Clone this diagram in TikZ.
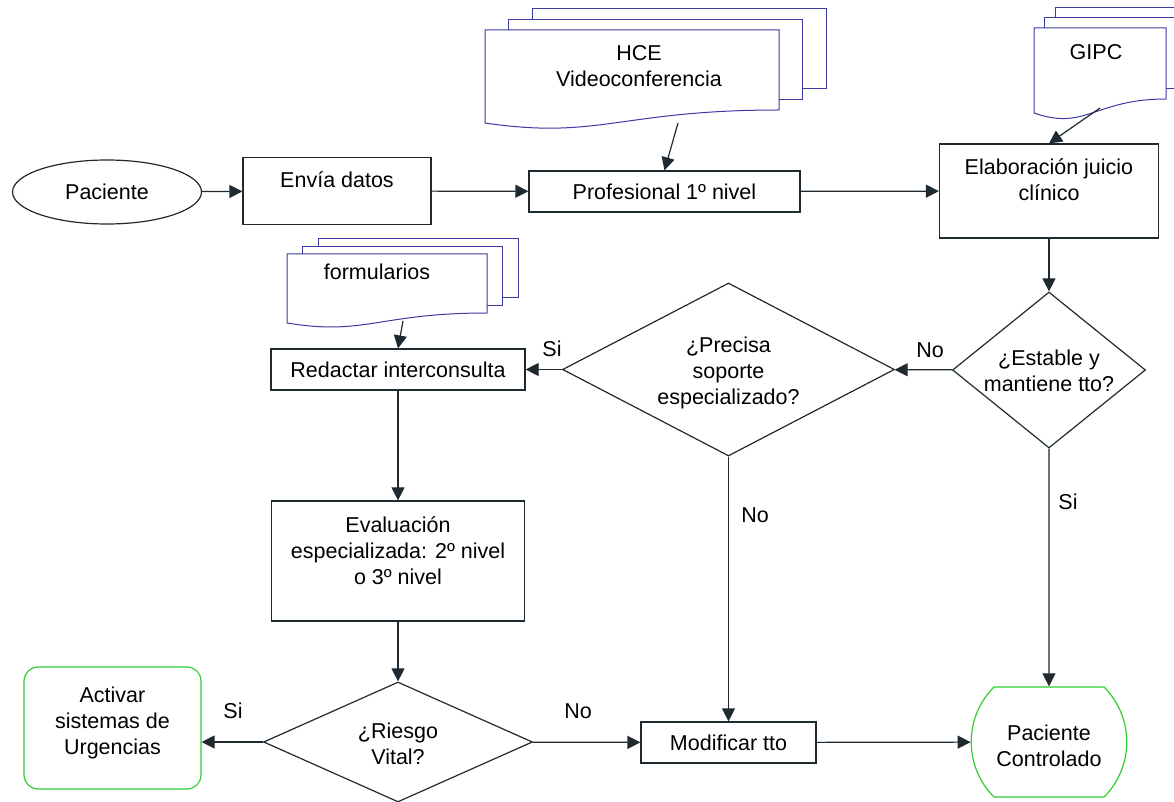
\documentclass[tikz,border=0pt]{standalone}
\usepackage{fontspec}
\setmainfont{Liberation Sans}
\usetikzlibrary{positioning, shapes.geometric, shapes.misc, arrows.meta}
\definecolor{lnk}{RGB}{30,42,48}
\definecolor{docc}{RGB}{58,58,160}
\definecolor{grn}{RGB}{51,204,51}

\begin{document}
\begin{tikzpicture}[x=0.5pt, y=-0.5pt,
				every node/.style={font=\fontsize{10.75}{13}\selectfont},
				box/.style={rectangle, draw=lnk, line width=0.6pt, fill=white, inner sep=0pt, align=center},
				dec/.style={diamond, draw=lnk, line width=0.6pt, fill=white, inner sep=0pt, align=center},
				endbox/.style={draw=grn, line width=0.6pt, fill=white, inner sep=0pt, align=center},
				lift/.style={text height=#1, text depth=0pt},
				docp/.style={draw=docc, line width=0.5pt, fill=white},
				lbl/.style={inner sep=0pt},
				arr/.style={draw=lnk, line width=0.6pt, -{Triangle[length=6.5pt, width=6.5pt]}}]
				
				\useasboundingbox (0,0) rectangle (1174,802);
				
				% document stacks
				\begin{scope}
					\clip (0,0) rectangle (1174,802);
					\foreach \xa/\ya/\xb/\yr/\yl/\sx/\sy in {485/30/779/110/123/23.5/10.5, 1034/28/1166/99/113/10.5/10, 287/254/487/313/323/15.5/7.5}{
						\draw[docp] ({\xa+2*\sx},{\ya-2*\sy}) rectangle ({\xb+2*\sx},{\yr-2*\sy});
						\draw[docp] ({\xa+\sx},{\ya-\sy}) rectangle ({\xb+\sx},{\yr-\sy});
						\draw[docp] (\xa,\ya) -- (\xb,\ya) -- (\xb,\yr)
							.. controls ({\xa+0.46*(\xb-\xa)},\yr) and ({\xa+0.39*(\xb-\xa)},{\yl+1.3*(\yl-\yr)}) .. (\xa,\yl) -- cycle;
					}
				\end{scope}
				\node[align=center] (hce) at (639,66) {HCE\\Videoconferencia};
				\node (gipc) at (1096,52) {GIPC};
				\node (form) at (377,272) {formularios};
				\coordinate (hcebot) at (678,123);
				\coordinate (gipcbot) at (1100,108);
				\coordinate (formbot) at (403,321);
				
				% flow
				\node[ellipse, draw=lnk, line width=0.6pt, inner sep=0pt, minimum width=94.5pt, minimum height=32pt] (pac) at (107,192) {Paciente};
				\node[box, text height=8pt, text depth=11.1pt, minimum width=94pt, minimum height=33.5pt] (env) at (337,191) {Envía datos};
				\node[box, minimum width=135.5pt, minimum height=20.5pt] (prof) at (664.5,191.5) {Profesional 1º nivel};
				\node[box, lift=9.4pt, minimum width=109.5pt, minimum height=47pt] (elab) at (1049,191) {Elaboración juicio\\clínico};
				\node[dec, aspect=1.24, lift=21.4pt, minimum width=96.5pt, minimum height=78pt] (est) at (1049,370) {¿Estable y\\mantiene tto?};
				\node[dec, aspect=1.92, lift=34.9pt, minimum width=166pt, minimum height=86.5pt] (prec) at (728.5,369.5) {¿Precisa\\soporte\\especializado?};
				\node[box, minimum width=127pt, minimum height=20.5pt] (redac) at (398,369.5) {Redactar interconsulta};
				\node[box, lift=23.4pt, minimum width=126.5pt, minimum height=60pt] (eval) at (398,561) {Evaluación\\especializada: 2º nivel\\o 3º nivel};
				\node[dec, aspect=2.24, lift=22.4pt, minimum width=134.5pt, minimum height=60pt] (ries) at (398,742) {¿Riesgo\\Vital?};
				\node[endbox, rectangle, rounded corners=7pt, lift=26.4pt, minimum width=88.5pt, minimum height=61pt] (act) at (112.5,728) {Activar\\sistemas de\\Urgencias};
				\node[box, minimum width=87.5pt, minimum height=20.5pt] (mod) at (728.5,742.5) {Modificar tto};
				\node[endbox, rounded rectangle, rounded rectangle arc length=90, lift=24.4pt, minimum width=76.5pt, minimum height=55pt] (pctl) at (1049,742) {Paciente\\Controlado};
				
				\draw[arr] (pac) -- (env);
				\draw[arr] (env) -- (prof);
				\draw[arr] (hcebot) -- (prof.north);
				\draw[arr] (prof) -- (elab);
				\draw[arr] (gipcbot) -- (elab.north);
				\draw[arr] (elab) -- (est);
				\draw[arr] (est) -- (prec);
				\draw[arr] (prec) -- (redac);
				\draw[arr] (formbot) -- (redac.north);
				\draw[arr] (redac) -- (eval);
				\draw[arr] (eval) -- (ries);
				\draw[arr] (ries.west) -- (ries.west -| act.east);
				\draw[arr] (ries) -- (mod);
				\draw[arr] (prec) -- (mod);
				\draw[arr] (mod) -- (pctl);
				\draw[arr] (est) -- (pctl);
				
				% answers
				\node[lbl] (l1) at (930,350) {No};
				\node[lbl] (l2) at (552,349) {Si};
				\node[lbl] (l3) at (755,515) {No};
				\node[lbl] (l4) at (1068,502) {Si};
				\node[lbl] (l5) at (233,711) {Si};
				\node[lbl] (l6) at (578,711) {No};
			\end{tikzpicture}
\end{document}
